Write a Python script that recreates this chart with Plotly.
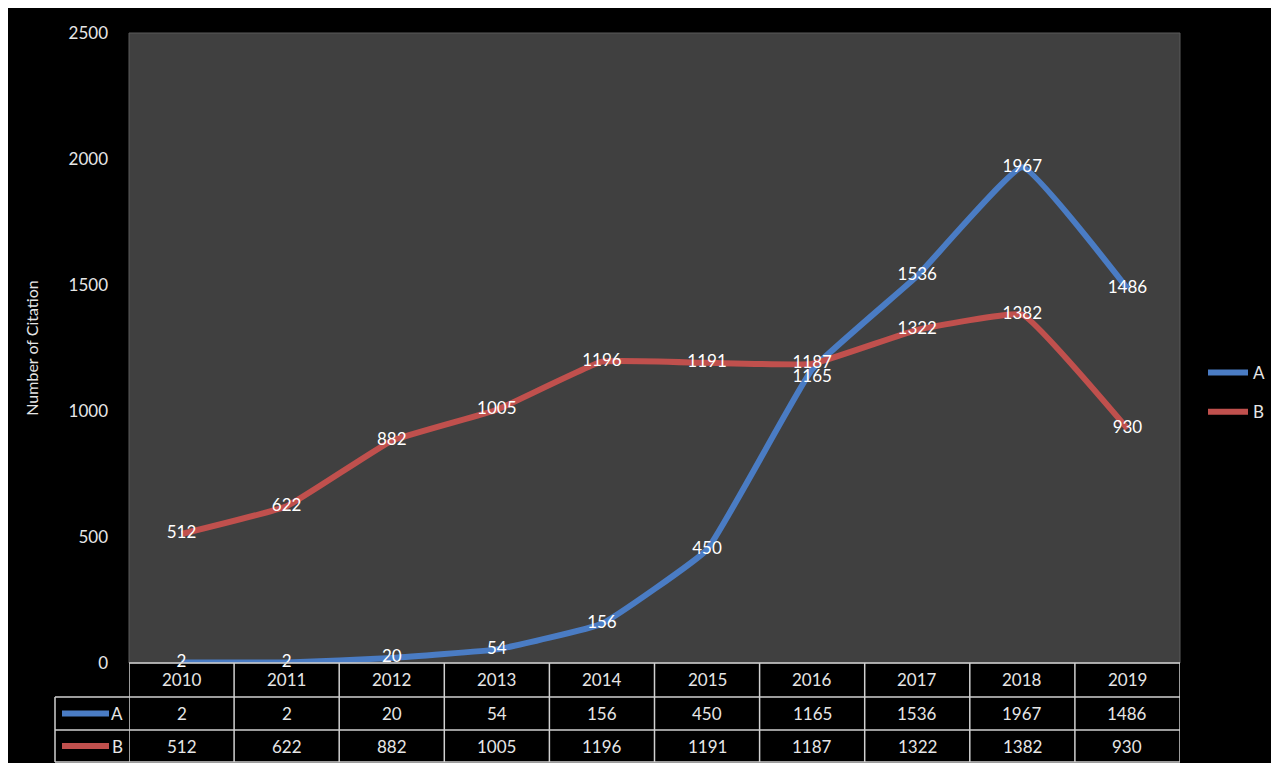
import plotly.graph_objects as go

years = ["2010", "2011", "2012", "2013", "2014", "2015", "2016", "2017", "2018", "2019"]
series_a = [2, 2, 20, 54, 156, 450, 1165, 1536, 1967, 1486]
series_b = [512, 622, 882, 1005, 1196, 1191, 1187, 1322, 1382, 930]
y_ticks = [0, 500, 1000, 1500, 2000, 2500]

OFF = 8  # page body margin
W, H = 1279 - 2 * OFF, 771 - 2 * OFF
# layout in page pixels
L, R, T, B = 129, 1180, 33, 663
PW, PH = R - L, B - T

def px_x(p):
    return (p - L) / PW

def px_y(p):
    return (B - p) / PH

BLUE = "#4a7cc4"
RED = "#c0504d"
TXT = "#e6e6e6"
GRID = "#d0d0d0"
FONT = "Lato, Open Sans, sans-serif"

fig = go.Figure()
fig.add_trace(go.Scatter(x=years, y=series_a, mode="lines", name="A", legendgroup="a",
                         line=dict(color=BLUE, width=6, shape="spline", smoothing=0.3)))
fig.add_trace(go.Scatter(x=years, y=series_b, mode="lines", name="B", legendgroup="b",
                         line=dict(color=RED, width=6, shape="spline", smoothing=0.3)))
pos_a = ["middle center"] * len(series_a)
pos_a[6] = "bottom center"
fig.add_trace(go.Scatter(x=years, y=series_a, mode="text", text=[str(v) for v in series_a],
                         textposition=pos_a, textfont=dict(color="white", size=17, family=FONT),
                         showlegend=False, hoverinfo="skip", cliponaxis=False))
fig.add_trace(go.Scatter(x=years, y=series_b, mode="text", text=[str(v) for v in series_b],
                         textposition="middle center", textfont=dict(color="white", size=17, family=FONT),
                         showlegend=False, hoverinfo="skip", cliponaxis=False))

shapes = []
shapes.append(dict(type="rect", xref="paper", yref="paper", x0=0, x1=1, y0=0, y1=1,
                   fillcolor="#404040", line=dict(color="#5a5a5a", width=1), layer="below"))

# data table
row_px = [663, 697, 730, 762]
txt_px = [680, 713.5, 746]
n = len(years)
for i in range(n + 1):
    shapes.append(dict(type="line", xref="x", yref="paper", x0=i - 0.5, x1=i - 0.5,
                       y0=px_y(row_px[0]), y1=px_y(row_px[3]), line=dict(color=GRID, width=1.5)))
shapes.append(dict(type="line", xref="paper", yref="paper", x0=0, x1=1,
                   y0=px_y(row_px[0]), y1=px_y(row_px[0]), line=dict(color=GRID, width=1.5)))
for rp in row_px[1:]:
    shapes.append(dict(type="line", xref="paper", yref="paper", x0=px_x(55), x1=1,
                       y0=px_y(rp), y1=px_y(rp), line=dict(color=GRID, width=1.5)))
shapes.append(dict(type="line", xref="paper", yref="paper", x0=px_x(55), x1=px_x(55),
                   y0=px_y(row_px[1]), y1=px_y(row_px[3]), line=dict(color=GRID, width=1.5)))
for rp, col in [(txt_px[1], BLUE), (txt_px[2], RED)]:
    shapes.append(dict(type="line", xref="paper", yref="paper", x0=px_x(62), x1=px_x(109),
                       y0=px_y(rp), y1=px_y(rp), line=dict(color=col, width=6)))

annotations = []
for i, yr in enumerate(years):
    for rp, txt in zip(txt_px, [yr, str(series_a[i]), str(series_b[i])]):
        annotations.append(dict(x=i, y=px_y(rp), xref="x", yref="paper", text=txt, showarrow=False,
                                xanchor="center", yanchor="middle",
                                font=dict(color=TXT, size=17, family=FONT)))
for rp, name in [(txt_px[1], "A"), (txt_px[2], "B")]:
    annotations.append(dict(x=px_x(117), y=px_y(rp), xref="paper", yref="paper", text=name, showarrow=False,
                            xanchor="center", yanchor="middle",
                            font=dict(color=TXT, size=17, family=FONT)))

fig.update_layout(
    width=W, height=H,
    margin=dict(l=L - OFF, r=W - (R - OFF), t=T - OFF, b=H - (B - OFF), pad=0, autoexpand=False),
    paper_bgcolor="black", plot_bgcolor="#404040",
    font=dict(family=FONT, color=TXT, size=16),
    shapes=shapes, annotations=annotations,
    showlegend=True,
    legend=dict(x=px_x(1203), y=px_y(355), xanchor="left", yanchor="top",
                bgcolor="rgba(0,0,0,0)", font=dict(size=17, color=TXT, family=FONT),
                traceorder="grouped", tracegroupgap=14, itemwidth=40),
    xaxis=dict(type="category", range=[-0.5, n - 0.5], showticklabels=False, showgrid=False,
               zeroline=False, showline=False, ticks=""),
    yaxis=dict(range=[0, 2500], tickvals=y_ticks, showgrid=False, zeroline=False, showline=False,
               ticks="", ticklabelstandoff=20, tickfont=dict(size=17, color=TXT, family=FONT),
               title=dict(text="Number of Citation", font=dict(size=16, color=TXT, family=FONT), standoff=25)),
)

fig.write_html("out.html")
